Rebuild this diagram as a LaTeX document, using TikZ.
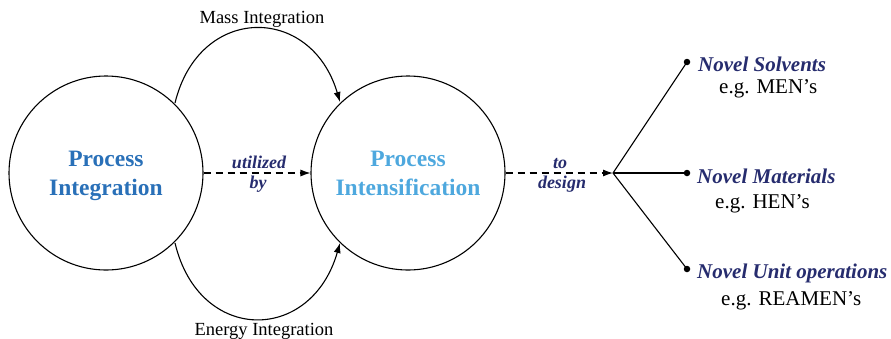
\documentclass[tikz,border=0pt]{standalone}
\usepackage{fontspec}
\setmainfont{Liberation Serif}[
  BoldFont={Liberation Serif Bold},
  ItalicFont={Liberation Serif Italic},
  BoldItalicFont={Liberation Serif Bold Italic}]
\usetikzlibrary{arrows.meta}
\definecolor{piblue}{RGB}{41,112,184}
\definecolor{pilight}{RGB}{78,168,222}
\definecolor{navy}{RGB}{38,44,110}
\tikzset{
  bigcircle/.style={draw,circle,line width=1.1pt,minimum size=194pt,inner sep=0pt},
  maintext/.style={font=\fontsize{23.5}{29}\selectfont\bfseries,align=center},
  linklabel/.style={font=\fontsize{18}{20}\selectfont\bfseries\itshape,text=navy,inner sep=0pt},
  flowlabel/.style={font=\fontsize{18.5}{20}\selectfont,inner sep=0pt},
  outtitle/.style={font=\fontsize{21}{24}\selectfont\bfseries\itshape,text=navy,anchor=base west,inner sep=0pt},
  outsub/.style={font=\fontsize{21}{24}\selectfont,anchor=base west,inner sep=0pt},
  tip/.style={-{Latex[length=10pt,width=7pt]}},
  conn/.style={line width=1.1pt},
  dashconn/.style={line width=1.1pt,dash pattern=on 7pt off 5pt},
  leaf/.style={circle,fill=black,minimum size=6.5pt,inner sep=0pt},
}
\begin{document}
\begin{tikzpicture}[x=1pt,y=-1pt]
\useasboundingbox (0,0) rectangle (891,338);

% the two main circles
\node[bigcircle] (pint) at (106,173) {};
\node[bigcircle] (pins) at (408,173) {};

\node[maintext,text=piblue,anchor=base] (pintA) at (106,166) {Process};
\node[maintext,text=piblue,anchor=base] (pintB) at (106,195) {Integration};
\node[maintext,text=pilight,anchor=base] (pinsA) at (408,166) {Process};
\node[maintext,text=pilight,anchor=base] (pinsB) at (408,195) {Intensification};

% mass and energy integration arcs
\coordinate (mS) at (175,103);
\coordinate (mE) at (340,102);
\coordinate (eS) at (175,243);
\coordinate (eE) at (340,243);
\draw[conn,tip] (mS) .. controls (199,4) and (311,4) .. (mE);
\draw[conn,tip] (eS) .. controls (199,344) and (311,344) .. (eE);
\node[flowlabel,anchor=base] (mass) at (262,23) {Mass Integration};
\node[flowlabel,anchor=base] (energy) at (264,335) {Energy Integration};

% utilized by
\draw[dashconn,tip] (pint.east) -- (pins.west);
\node[linklabel,anchor=base] (ut) at (259,168) {utilized};
\node[linklabel,anchor=base] (by) at (258,188) {by};

% to design
\coordinate (br) at (613,173);
\draw[dashconn,tip] (pins.east) -- (br);
\node[linklabel,anchor=base] (to) at (560,168) {to};
\node[linklabel,anchor=base] (design) at (562,188) {design};

% branches to the outcomes
\node[leaf] (d1) at (687,62) {};
\node[leaf] (d2) at (687,173) {};
\node[leaf] (d3) at (687,269) {};
\draw[conn] (br) -- (d1.center);
\draw[conn] (br) -- (d2.center);
\draw[conn] (br) -- (d3.center);

\node[outtitle] (n1) at (698,71) {Novel Solvents};
\node[outsub] (s1) at (719,93) {e.g. MEN’s};
\node[outtitle] (n2) at (697,183) {Novel Materials};
\node[outsub] (s2) at (715,208) {e.g. HEN’s};
\node[outtitle] (n3) at (697,278) {Novel Unit operations};
\node[outsub] (s3) at (721,305) {e.g. REAMEN’s};
\end{tikzpicture}
\end{document}
